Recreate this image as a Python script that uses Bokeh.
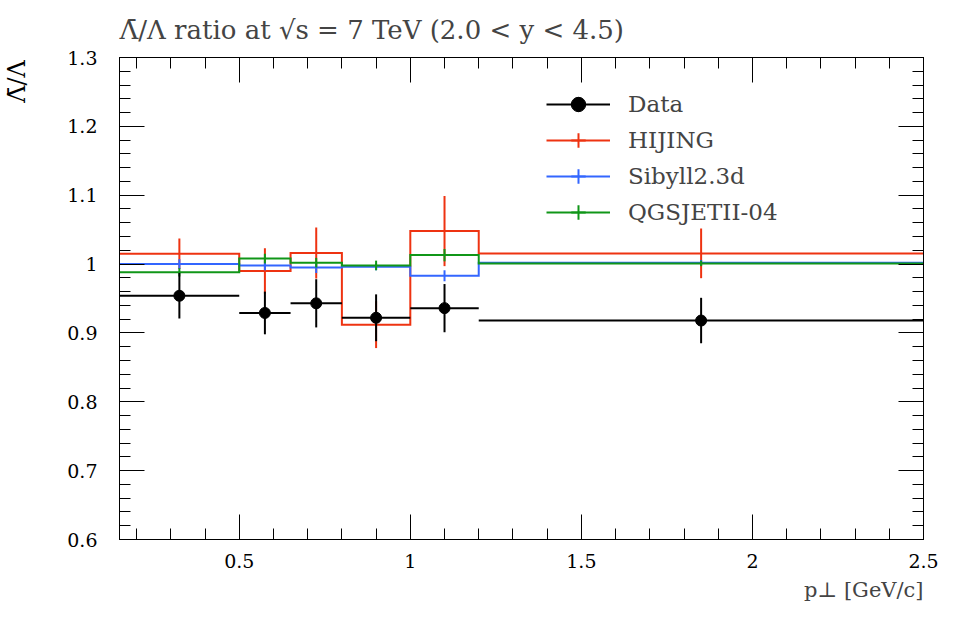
from bokeh.plotting import figure
from bokeh.models import (FixedTicker, LinearAxis, Range1d, Title, Legend, LegendItem,
                          CustomJSTickFormatter)
from bokeh.embed import file_html
from bokeh.resources import INLINE

# ---------------- data ----------------
edges = [0.15, 0.5, 0.65, 0.8, 1.0, 1.2, 2.5]
centers = [0.325, 0.575, 0.725, 0.9, 1.1, 1.85]

data_val = [0.954, 0.929, 0.943, 0.922, 0.936, 0.918]
data_err = [0.033, 0.031, 0.035, 0.034, 0.035, 0.033]

hijing_val = [1.015, 0.990, 1.016, 0.912, 1.048, 1.0155]
hijing_err = [0.022, 0.033, 0.037, 0.034, 0.051, 0.036]

sibyll_val = [1.000, 0.998, 0.995, 0.996, 0.983, 1.002]
sibyll_err = [0.007, 0.007, 0.008, 0.005, 0.008, 0.004]

qgsjet_val = [0.988, 1.008, 1.002, 0.998, 1.013, 1.001]
qgsjet_err = [0.006, 0.007, 0.007, 0.007, 0.009, 0.004]

x_major = [0.5, 1.0, 1.5, 2.0, 2.5]
x_minor = [round(0.2 + 0.1 * i, 2) for i in range(24)]
y_major = [0.6, 0.7, 0.8, 0.9, 1.0, 1.1, 1.2, 1.3]
y_minor = [round(0.6 + 0.02 * i, 2) for i in range(36)]

title_text = "\u039B\u0304/\u039B ratio at \u221As = 7 TeV (2.0 < y < 4.5)"
xlabel_text = "p\u22A5 [GeV/c]"
ylabel_text = "\u039B\u0304/\u039B"

FONT = "DejaVu Serif"
RED, BLUE, GREEN = "#EE3311", "#3366FF", "#109618"

W, H = 945, 610
BL, BR, BT, BB = 118, 22, 56, 71

p = figure(width=W, height=H, x_range=Range1d(0.15, 2.5), y_range=Range1d(0.6, 1.3),
           x_axis_location=None, y_axis_location=None,
           output_backend="svg", toolbar_location=None,
           min_border_left=BL, min_border_right=BR, min_border_top=BT, min_border_bottom=BB)
p.xgrid.visible = False
p.ygrid.visible = False
p.outline_line_color = "black"
p.background_fill_color = "white"

p.title.text = title_text
p.title.align = "left"
p.title.text_font = FONT
p.title.text_font_size = "26px"
p.title.text_font_style = "normal"
p.title.vertical_align = "bottom"
p.title.standoff = 25

fmt = CustomJSTickFormatter(code="return String(tick)")
blank = CustomJSTickFormatter(code="return ''")
xt = FixedTicker(ticks=x_major, minor_ticks=x_minor)
yt = FixedTicker(ticks=y_major, minor_ticks=y_minor)

bottom = LinearAxis(ticker=xt, formatter=fmt)
left = LinearAxis(ticker=yt, formatter=fmt)
top = LinearAxis(ticker=xt, formatter=blank, major_label_text_font_size="0px", major_label_standoff=0)
right = LinearAxis(ticker=yt, formatter=blank, major_label_text_font_size="0px", major_label_standoff=0)

for ax in [bottom, left, top, right]:
    ax.major_tick_in = 25
    ax.major_tick_out = 0
    ax.minor_tick_in = 11
    ax.minor_tick_out = 0
    ax.axis_line_color = "black"
    ax.major_tick_line_color = "black"
    ax.minor_tick_line_color = "black"
    ax.major_label_text_font = FONT
    ax.major_label_text_color = "black"
bottom.major_label_text_font_size = "19px"
left.major_label_text_font_size = "19px"
bottom.major_label_standoff = 14
left.major_label_standoff = 22

# y label: aligned to the top end of the axis; the trailing em spaces shift
# the (centred) text so that its visible end sits at the top of the frame
left.axis_label = ylabel_text + "\u2003\u2003"
left.axis_label_standoff = 33
left.axis_label_text_font = FONT
left.axis_label_text_font_size = "24px"
left.axis_label_text_font_style = "normal"
left.axis_label_text_color = "black"
try:
    left.axis_label_align = "end"
except Exception:
    pass

p.add_layout(bottom, "below")
p.add_layout(left, "left")
p.add_layout(top, "above")
p.add_layout(right, "right")

p.add_layout(Title(text=xlabel_text, align="right", text_font=FONT, text_font_size="21px",
                   text_font_style="normal", standoff=10), "below")

lo = edges[:-1]
hi = edges[1:]

items = []
for name, vals, errs, col in [("HIJING", hijing_val, hijing_err, RED),
                              ("Sibyll2.3d", sibyll_val, sibyll_err, BLUE),
                              ("QGSJETII-04", qgsjet_val, qgsjet_err, GREEN)]:
    st = p.step(x=edges, y=list(vals) + [vals[-1]], mode="after", line_color=col,
                line_width=2, line_join="miter")
    p.segment(x0=centers, y0=[v - e for v, e in zip(vals, errs)],
              x1=centers, y1=[v + e for v, e in zip(vals, errs)], line_color=col, line_width=2)
    cr = p.scatter(x=centers, y=vals, marker="cross", size=0, line_color=col, line_width=2)
    items.append(LegendItem(label=name, renderers=[st, cr]))

dh = p.segment(x0=lo, y0=data_val, x1=hi, y1=data_val, line_color="black", line_width=2)
p.segment(x0=centers, y0=[v - e for v, e in zip(data_val, data_err)],
          x1=centers, y1=[v + e for v, e in zip(data_val, data_err)], line_color="black", line_width=2)
dc = p.scatter(x=centers, y=data_val, marker="cross", size=0, line_color="black", line_width=2)
dp = p.scatter(x=centers, y=data_val, marker="circle", size=11, fill_color="black", line_color="black")
items.insert(0, LegendItem(label="Data", renderers=[dh, dc, dp]))

legend = Legend(items=items, location=(427, 309), glyph_width=64, glyph_height=36,
                label_height=36, spacing=0, padding=0, margin=0, label_standoff=18,
                label_text_font=FONT, label_text_font_size="23px",
                border_line_alpha=0, background_fill_alpha=0)
p.add_layout(legend)

open("out.html", "w").write(file_html(p, INLINE))
